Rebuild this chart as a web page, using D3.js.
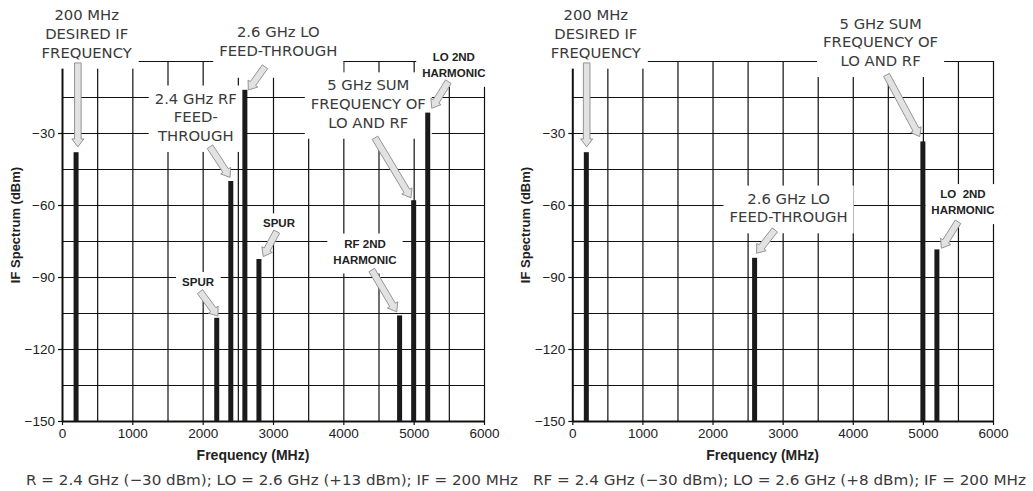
<!DOCTYPE html>
<html>
<head>
<meta charset="utf-8">
<script src="https://cdn.jsdelivr.net/npm/d3@7"></script>
<style>
  body { margin: 0; background: #fff; }
  .tick text { font-family: "Liberation Sans", Arial, sans-serif; font-size: 13.5px; fill: #222; }
</style>
</head>
<body>
<div id="chart"></div>
<script>
// Chart data
const freqTicks = [0, 1000, 2000, 3000, 4000, 5000, 6000];
const dbmTicks = [-30, -60, -90, -120, -150];

// left panel: LO +13 dBm
const leftFreqs = [200, 2200, 2400, 2600, 2800, 4800, 5000, 5200];
const leftPower = [-38, -107, -50, -12, -82.5, -106, -58, -21.5];

// right panel: LO +8 dBm
const rightFreqs = [200, 2600, 5000, 5200];
const rightPower = [-38, -82, -33.5, -78.5];

const leftCaption = 'R = 2.4 GHz (\u221230 dBm); LO = 2.6 GHz (+13 dBm); IF = 200 MHz';
const rightCaption = 'RF = 2.4 GHz (\u221230 dBm); LO = 2.6 GHz (+8 dBm); IF = 200 MHz';

// annotations (label anchor / arrow tail / arrow tip in MHz, dBm)
const leftNotes = [
    { lines: ['200 MHz', 'DESIRED IF', 'FREQUENCY'], at: [351, 19.2], tail: [225, -0.8], tip: [225, -35.8] },
    { lines: ['2.6 GHz LO', 'FEED-THROUGH'], at: [3075, 12.2], tail: [2886, -2.4], tip: [2649, -12.1], padB: 19 },
    { lines: ['2.4 GHz RF', 'FEED-', 'THROUGH'], at: [1902, -15.5], tail: [2104, -35.7], tip: [2389, -48.5] },
    { lines: ['5 GHz SUM', 'FREQUENCY OF', 'LO AND RF'], at: [4355, -10], tail: [4450, -32], tip: [4962, -57] },
    { lines: ['LO 2ND', 'HARMONIC'], bold: true, at: [5571, 1.8], tail: [5493, -8.6], tip: [5257, -19.7] },
    { lines: ['SPUR'], bold: true, at: [3085, -67.6], tail: [3053, -71.1], tip: [2862, -81.5] },
    { lines: ['SPUR'], bold: true, at: [1934, -92], tail: [1962, -96.1], tip: [2218, -106.3] },
    { lines: ['RF 2ND', 'HARMONIC'], bold: true, at: [4308, -76], tail: [4404, -87.1], tip: [4759, -104.5] }
];
const rightNotes = [
    { lines: ['200 MHz', 'DESIRED IF', 'FREQUENCY'], at: [335, 19.2], tail: [205, -0.8], tip: [205, -35.8] },
    { lines: ['5 GHz SUM', 'FREQUENCY OF', 'LO AND RF'], at: [4397, 15.7], tail: [4481, -5.8], tip: [4955, -31.5] },
    { lines: ['2.6 GHz LO', 'FEED-THROUGH'], at: [3085, -57.2], tail: [2889, -70.4], tip: [2628, -80.1] },
    { lines: ['LO  2ND', 'HARMONIC'], bold: true, at: [5572, -55.4], tail: [5501, -67], tip: [5264, -78] }
];

const W = 1033, H = 491;
const plotTop = 61, plotBottom = 421;
const labelFont = '"DejaVu Sans", sans-serif';
const boldFont = '"Liberation Sans", Arial, sans-serif';

const svg = d3.select('#chart')
    .append('svg')
    .attr('width', W)
    .attr('height', H);

const minusFmt = d => d < 0 ? '\u2212' + Math.abs(d) : String(d);

function drawPanel(left, right, freqs, power, notes, caption, capX, capLen) {
    const x = d3.scaleLinear().domain([0, 6000]).range([left, right]);
    const y = d3.scaleLinear().domain([-150, 0]).range([plotBottom, plotTop]);
    const w = right - left, h = plotBottom - plotTop;

    const g = svg.append('g');
    const gridLayer = g.append('g');
    const axisLayer = g.append('g');
    const boxLayer = g.append('g');
    const barLayer = g.append('g');
    const textLayer = g.append('g');
    const arrowLayer = g.append('g');

    // grid lines
    gridLayer.append('g')
        .attr('transform', `translate(0,${plotBottom})`)
        .call(d3.axisBottom(x).tickValues(d3.range(500, 6001, 500)).tickSize(-h).tickFormat(''))
        .call(s => s.select('.domain').remove())
        .selectAll('line').attr('stroke', '#111').attr('stroke-width', 1.2);
    gridLayer.append('g')
        .attr('transform', `translate(${left},0)`)
        .call(d3.axisLeft(y).tickValues(d3.range(-135, 1, 15)).tickSize(-w).tickFormat(''))
        .call(s => s.select('.domain').remove())
        .selectAll('line').attr('stroke', '#111').attr('stroke-width', 1.2);

    // axes
    const xAxis = axisLayer.append('g')
        .attr('transform', `translate(0,${plotBottom})`)
        .call(d3.axisBottom(x).tickValues(freqTicks).tickFormat(minusFmt)
            .tickSize(4).tickSizeOuter(0).tickPadding(3));
    xAxis.select('.domain').attr('stroke', '#111').attr('stroke-width', 2);
    xAxis.selectAll('line').attr('stroke', '#111').attr('stroke-width', 1.2);

    const yAxis = axisLayer.append('g')
        .attr('transform', `translate(${left},0)`)
        .call(d3.axisLeft(y).tickValues(dbmTicks).tickFormat(minusFmt)
            .tickSize(4).tickSizeOuter(0).tickPadding(3));
    yAxis.select('.domain').attr('stroke', '#111').attr('stroke-width', 2);
    yAxis.selectAll('line').attr('stroke', '#111').attr('stroke-width', 1.2);

    // axis titles
    g.append('text')
        .attr('x', (left + right) / 2 - 20)
        .attr('y', 460)
        .attr('text-anchor', 'middle')
        .style('font-family', boldFont)
        .style('font-weight', 'bold')
        .style('font-size', '14px')
        .style('fill', '#222')
        .text('Frequency (MHz)');

    g.append('text')
        .attr('transform', `translate(${left - 42},225) rotate(-90)`)
        .attr('text-anchor', 'middle')
        .style('font-family', boldFont)
        .style('font-weight', 'bold')
        .style('font-size', '13px')
        .style('fill', '#222')
        .text('IF Spectrum (dBm)');

    // spectral lines
    barLayer.selectAll('rect')
        .data(freqs.map((f, i) => [f, power[i]]))
        .enter()
        .append('rect')
        .attr('x', d => x(d[0]) - 2.5)
        .attr('y', d => y(d[1]))
        .attr('width', 5)
        .attr('height', d => y(-150) - y(d[1]))
        .attr('fill', '#1a1a1a');

    // annotations
    notes.forEach(n => {
        const cx = x(n.at[0]), cy = y(n.at[1]);
        const gap = n.bold ? 16 : 18.7;
        const t = textLayer.append('text')
            .attr('text-anchor', 'middle')
            .style('font-family', n.bold ? boldFont : labelFont)
            .style('font-weight', n.bold ? 'bold' : 'normal')
            .style('font-size', n.bold ? '11.5px' : '14.8px')
            .style('fill', n.bold ? '#222' : '#3a3a3a');
        n.lines.forEach((s, i) => {
            t.append('tspan')
                .attr('x', cx)
                .attr('y', cy + i * gap)
                .attr('dy', '0.36em')
                .style('white-space', 'pre')
                .text(s);
        });
        const b = t.node().getBBox();
        const padB = n.padB || 8;
        boxLayer.append('rect')
            .attr('x', b.x - 6)
            .attr('y', b.y - 4)
            .attr('width', b.width + 12)
            .attr('height', b.height + 4 + padB)
            .attr('fill', '#fff');

        // block arrow
        const tx = x(n.tail[0]), ty = y(n.tail[1]);
        const px = x(n.tip[0]), py = y(n.tip[1]);
        const len = Math.hypot(px - tx, py - ty);
        const ux = (px - tx) / len, uy = (py - ty) / len;
        const nx = -uy, ny = ux;
        const sw = 3.3, hw = 6, hl = 8;
        const hx = px - ux * hl, hy = py - uy * hl;
        const pts = [
            [tx + nx * sw, ty + ny * sw],
            [hx + nx * sw, hy + ny * sw],
            [hx + nx * hw, hy + ny * hw],
            [px, py],
            [hx - nx * hw, hy - ny * hw],
            [hx - nx * sw, hy - ny * sw],
            [tx - nx * sw, ty - ny * sw]
        ];
        arrowLayer.append('polygon')
            .attr('points', pts.map(p => p.join(',')).join(' '))
            .attr('fill', '#e2e2e2')
            .attr('stroke', '#8a8a8a')
            .attr('stroke-width', 0.9);
    });

    // caption
    svg.append('text')
        .attr('x', capX)
        .attr('y', 485)
        .attr('textLength', capLen)
        .attr('lengthAdjust', 'spacingAndGlyphs')
        .style('font-family', labelFont)
        .style('font-size', '14.5px')
        .style('fill', '#3a3a3a')
        .text(caption);
}

drawPanel(62, 484, leftFreqs, leftPower, leftNotes, leftCaption, 26, 492);
drawPanel(572.3, 993, rightFreqs, rightPower, rightNotes, rightCaption, 533, 493);
</script>
</body>
</html>
